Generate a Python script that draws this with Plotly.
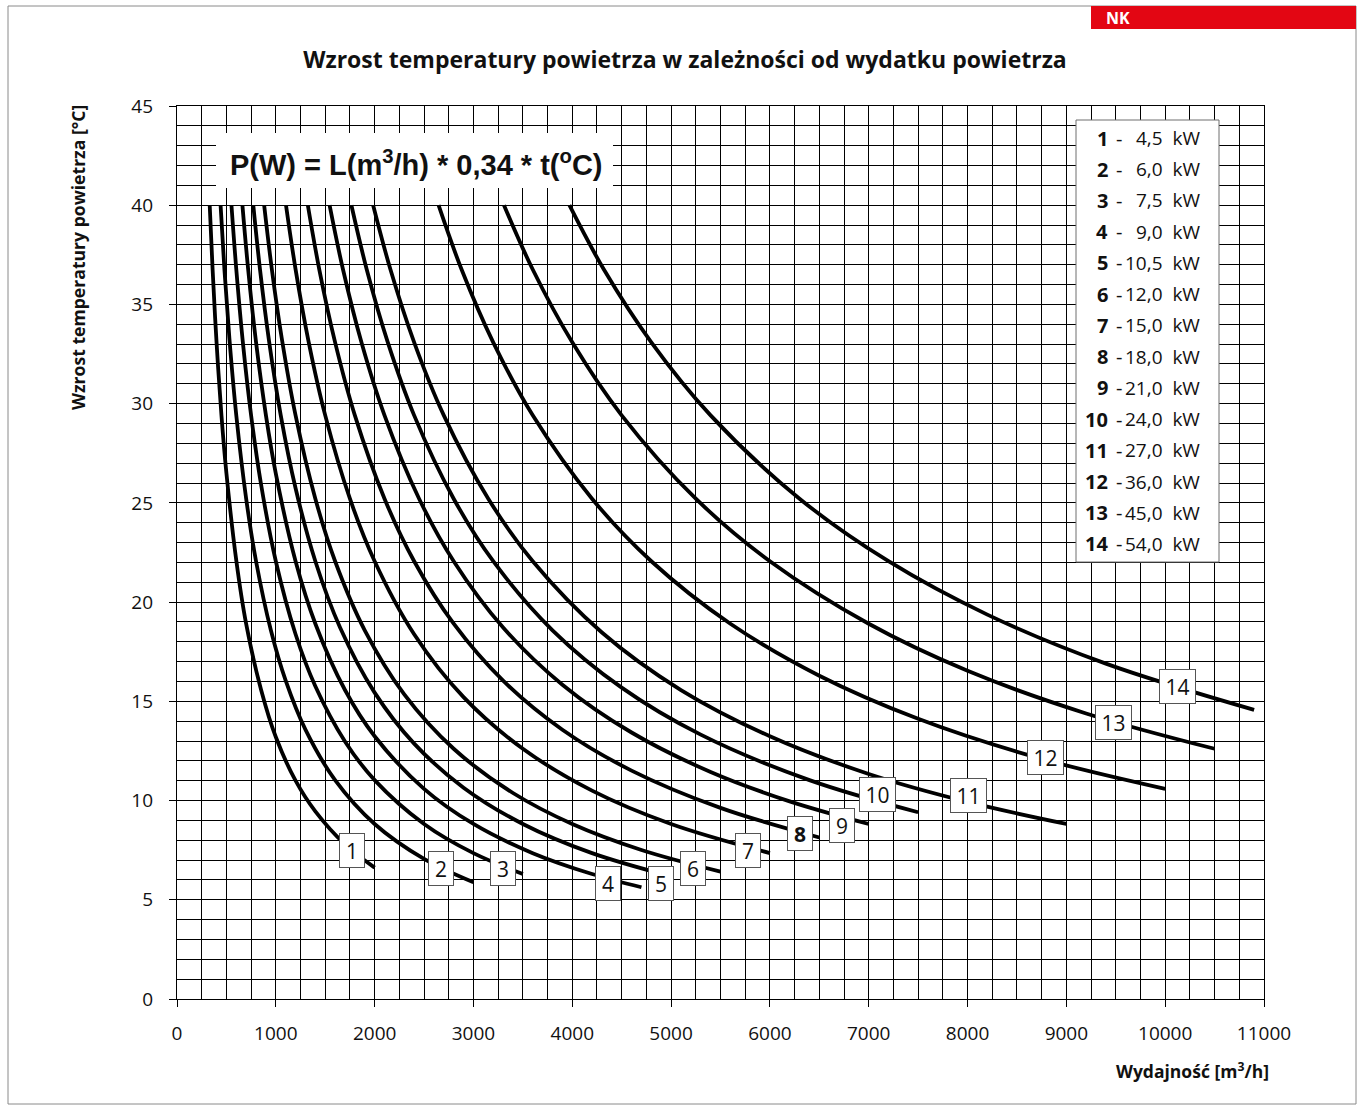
import plotly.graph_objects as go

# ---------------- data ----------------
power_kw_labels = ["4,5", "6,0", "7,5", "9,0", "10,5", "12,0", "15,0",
                   "18,0", "21,0", "24,0", "27,0", "36,0", "45,0", "54,0"]
curve_ids = [str(i) for i in range(1, 15)]

L1 = [331, 360, 400, 450, 500, 600, 700, 850, 1000, 1200, 1400, 1700, 2000]
T1 = [40.0, 36.8, 33.1, 29.4, 26.5, 22.1, 18.9, 15.6, 13.2, 11.0, 9.45, 7.79, 6.62]
L2 = [441, 480, 530, 600, 700, 800, 950, 1100, 1300, 1600, 2000, 2500, 3000]
T2 = [40.0, 36.76, 33.30, 29.41, 25.21, 22.06, 18.58, 16.04, 13.57, 11.03, 8.82, 7.06, 5.88]
L3 = [551, 600, 670, 750, 850, 1000, 1200, 1400, 1700, 2000, 2500, 3000, 3500]
T3 = [40.0, 36.77, 32.92, 29.41, 25.95, 22.06, 18.38, 15.76, 12.98, 11.03, 8.82, 7.35, 6.30]
L4 = [662, 720, 800, 900, 1000, 1200, 1400, 1700, 2000, 2500, 3000, 3600, 4200, 4700]
T4 = [40.0, 36.77, 33.09, 29.41, 26.47, 22.06, 18.91, 15.57, 13.24, 10.59, 8.82, 7.35, 6.30, 5.63]
L5 = [772, 840, 930, 1050, 1200, 1400, 1650, 2000, 2400, 2900, 3500, 4200, 5000]
T5 = [40.0, 36.76, 33.21, 29.41, 25.74, 22.06, 18.72, 15.44, 12.87, 10.65, 8.82, 7.35, 6.18]
L6 = [882, 960, 1060, 1200, 1400, 1600, 1900, 2300, 2800, 3400, 4000, 4700, 5500]
T6 = [40.0, 36.76, 33.30, 29.41, 25.21, 22.06, 18.58, 15.35, 12.61, 10.38, 8.82, 7.51, 6.42]
L7 = [1103, 1200, 1330, 1500, 1750, 2000, 2400, 2900, 3500, 4200, 5000, 6000]
T7 = [40.0, 36.77, 33.17, 29.41, 25.21, 22.06, 18.38, 15.21, 12.61, 10.50, 8.82, 7.35]
L8 = [1324, 1440, 1600, 1800, 2100, 2400, 2800, 3300, 3900, 4600, 5500, 6500]
T8 = [40.0, 36.76, 33.09, 29.41, 25.21, 22.06, 18.91, 16.04, 13.57, 11.51, 9.63, 8.14]
L9 = [1544, 1680, 1870, 2100, 2450, 2800, 3300, 3900, 4600, 5400, 6200, 7000]
T9 = [40.0, 36.76, 33.03, 29.41, 25.21, 22.06, 18.72, 15.84, 13.43, 11.44, 9.96, 8.82]
L10 = [1765, 1920, 2130, 2400, 2800, 3200, 3800, 4500, 5300, 6400, 7500]
T10 = [40.0, 36.76, 33.14, 29.41, 25.21, 22.06, 18.58, 15.69, 13.32, 11.03, 9.41]
L11 = [1985, 2160, 2400, 2700, 3150, 3600, 4300, 5100, 6000, 7000, 8000, 9000]
T11 = [40.0, 36.76, 33.09, 29.41, 25.21, 22.06, 18.47, 15.57, 13.24, 11.34, 9.93, 8.82]
L12 = [2647, 2880, 3200, 3600, 4200, 4800, 5600, 6500, 7500, 8700, 10000]
T12 = [40.0, 36.76, 33.09, 29.41, 25.21, 22.06, 18.91, 16.29, 14.12, 12.17, 10.59]
L13 = [3309, 3600, 4000, 4500, 5250, 6000, 7000, 8000, 9200, 10500]
T13 = [40.0, 36.76, 33.09, 29.41, 25.21, 22.06, 18.91, 16.54, 14.39, 12.61]
L14 = [3971, 4320, 4800, 5400, 6300, 7200, 8200, 9400, 10900]
T14 = [40.0, 36.76, 33.09, 29.41, 25.21, 22.06, 19.37, 16.90, 14.57]

curves_L = [L1, L2, L3, L4, L5, L6, L7, L8, L9, L10, L11, L12, L13, L14]
curves_T = [T1, T2, T3, T4, T5, T6, T7, T8, T9, T10, T11, T12, T13, T14]

# curve number boxes (data coordinates)
label_x = [1771, 2672, 3299, 4361, 4898, 5222, 5778, 6304, 6729, 7084, 8005, 8784, 9472, 10120]
label_y = [7.46, 6.60, 6.60, 5.80, 5.80, 6.60, 7.46, 8.32, 8.72, 10.33, 10.28, 12.15, 13.91, 15.73]

x_tick_vals = list(range(0, 11001, 1000))
x_tick_text = [str(v) for v in x_tick_vals]
y_tick_vals = list(range(0, 46, 5))
y_tick_text = [str(v) for v in y_tick_vals]

# ---------------- layout helpers ----------------
X0, X1, Y0, Y1 = 177, 1264, 999, 106
FIG_W, FIG_H = 1359, 1106


def px_x(p):
    return (p - X0) / (X1 - X0)


def px_y(p):
    return (Y0 - p) / (Y0 - Y1)


FONT = "Open Sans"
TXT = "#111111"

fig = go.Figure()
for i in range(14):
    fig.add_trace(go.Scatter(
        x=curves_L[i], y=curves_T[i], mode="lines",
        line=dict(color="black", width=3.8, shape="spline", smoothing=1.0),
        showlegend=False, hoverinfo="skip"))

annotations = []
shapes = []

# frame around the whole picture
shapes.append(dict(type="rect", xref="paper", yref="paper",
                   x0=px_x(8), x1=px_x(1356), y0=px_y(1104), y1=px_y(6),
                   line=dict(color="#8a8a8a", width=1), fillcolor="rgba(0,0,0,0)",
                   layer="above"))
# red badge
shapes.append(dict(type="rect", xref="paper", yref="paper",
                   x0=px_x(1091), x1=px_x(1356), y0=px_y(29), y1=px_y(6),
                   line=dict(width=0), fillcolor="#e30613", layer="above"))
annotations.append(dict(xref="paper", yref="paper", x=px_x(1118), y=px_y(18),
                        text="<b>NK</b>", showarrow=False, xanchor="center", yanchor="middle",
                        font=dict(family=FONT, size=16, color="white")))

# formula box
shapes.append(dict(type="rect", xref="paper", yref="paper",
                   x0=px_x(216), x1=px_x(613), y0=px_y(188), y1=px_y(133),
                   line=dict(width=0), fillcolor="white", layer="above"))
annotations.append(dict(xref="paper", yref="paper", x=px_x(416), y=px_y(163),
                        text="<b>P(W) = L(m<sup>3</sup>/h) * 0,34 * t(<sup>o</sup>C)</b>",
                        showarrow=False, xanchor="center", yanchor="middle",
                        font=dict(family="Liberation Sans", size=29, color=TXT)))

# legend box
shapes.append(dict(type="rect", xref="paper", yref="paper",
                   x0=px_x(1076), x1=px_x(1219), y0=px_y(562), y1=px_y(120),
                   line=dict(color="#6e6e6e", width=1), fillcolor="white", layer="above"))
for i in range(14):
    ypx = 138 + i * 31.23
    annotations.append(dict(xref="paper", yref="paper", x=px_x(1110), y=px_y(ypx),
                            text="<b>%s</b>" % curve_ids[i], showarrow=False,
                            xanchor="right", yanchor="middle",
                            font=dict(family=FONT, size=20, color=TXT)))
    annotations.append(dict(xref="paper", yref="paper", x=px_x(1119), y=px_y(ypx),
                            text="-", showarrow=False, xanchor="center", yanchor="middle",
                            font=dict(family=FONT, size=20, color=TXT)))
    annotations.append(dict(xref="paper", yref="paper", x=px_x(1202), y=px_y(ypx),
                            text="%s  kW" % power_kw_labels[i], showarrow=False,
                            xanchor="right", yanchor="middle",
                            font=dict(family=FONT, size=19, color=TXT)))

# curve number boxes
for i in range(14):
    txt = "<b>8</b>" if curve_ids[i] == "8" else curve_ids[i]
    w = 20 if len(curve_ids[i]) == 1 else 31
    annotations.append(dict(xref="x", yref="y", x=label_x[i], y=label_y[i],
                            text=txt, showarrow=False, xanchor="center", yanchor="middle",
                            bgcolor="white", bordercolor="#555", borderwidth=1,
                            borderpad=2, width=w, height=29,
                            font=dict(family=FONT, size=21, color=TXT)))

# axis titles
annotations.append(dict(xref="paper", yref="paper", x=px_x(78), y=px_y(258),
                        text="<b>Wzrost temperatury powietrza [°C]</b>", textangle=-90,
                        showarrow=False, xanchor="center", yanchor="middle",
                        font=dict(family=FONT, size=17.6, color=TXT)))
annotations.append(dict(xref="paper", yref="paper", x=px_x(1271), y=px_y(1070),
                        text="<b>Wydajność [m<sup>3</sup>/h]</b>",
                        showarrow=False, xanchor="right", yanchor="middle",
                        font=dict(family=FONT, size=17.5, color=TXT)))

fig.update_layout(
    width=FIG_W, height=FIG_H,
    margin=dict(l=X0, r=FIG_W - X1, t=Y1, b=FIG_H - Y0, autoexpand=False),
    paper_bgcolor="white", plot_bgcolor="white",
    title=dict(text="<b>Wzrost temperatury powietrza w zależności od wydatku powietrza</b>",
               x=685 / FIG_W, y=1 - 60 / FIG_H, xref="container", yref="container",
               xanchor="center", yanchor="middle",
               font=dict(family=FONT, size=23, color=TXT)),
    shapes=shapes, annotations=annotations,
    xaxis=dict(range=[0, 11000], tickmode="array", tickvals=x_tick_vals, ticktext=x_tick_text,
               showgrid=True, gridcolor="black", gridwidth=1,
               minor=dict(dtick=250, showgrid=True, gridcolor="black", gridwidth=1),
               showline=True, linecolor="black", linewidth=1.3, mirror=True,
               ticks="outside", ticklen=7, tickcolor="black", tickwidth=1,
               zeroline=False, ticklabelstandoff=10,
               tickfont=dict(family=FONT, size=19, color=TXT)),
    yaxis=dict(range=[0, 45], tickmode="array", tickvals=y_tick_vals, ticktext=y_tick_text,
               showgrid=True, gridcolor="black", gridwidth=1,
               minor=dict(dtick=1, showgrid=True, gridcolor="black", gridwidth=1),
               showline=True, linecolor="black", linewidth=1.3, mirror=True,
               ticks="outside", ticklen=7, tickcolor="black", tickwidth=1,
               zeroline=False, ticklabelstandoff=12,
               tickfont=dict(family=FONT, size=19, color=TXT)),
)

fig.write_html("out.html", config={"displayModeBar": False},
               post_script="document.body.style.margin='0';document.body.style.overflow='hidden';")
